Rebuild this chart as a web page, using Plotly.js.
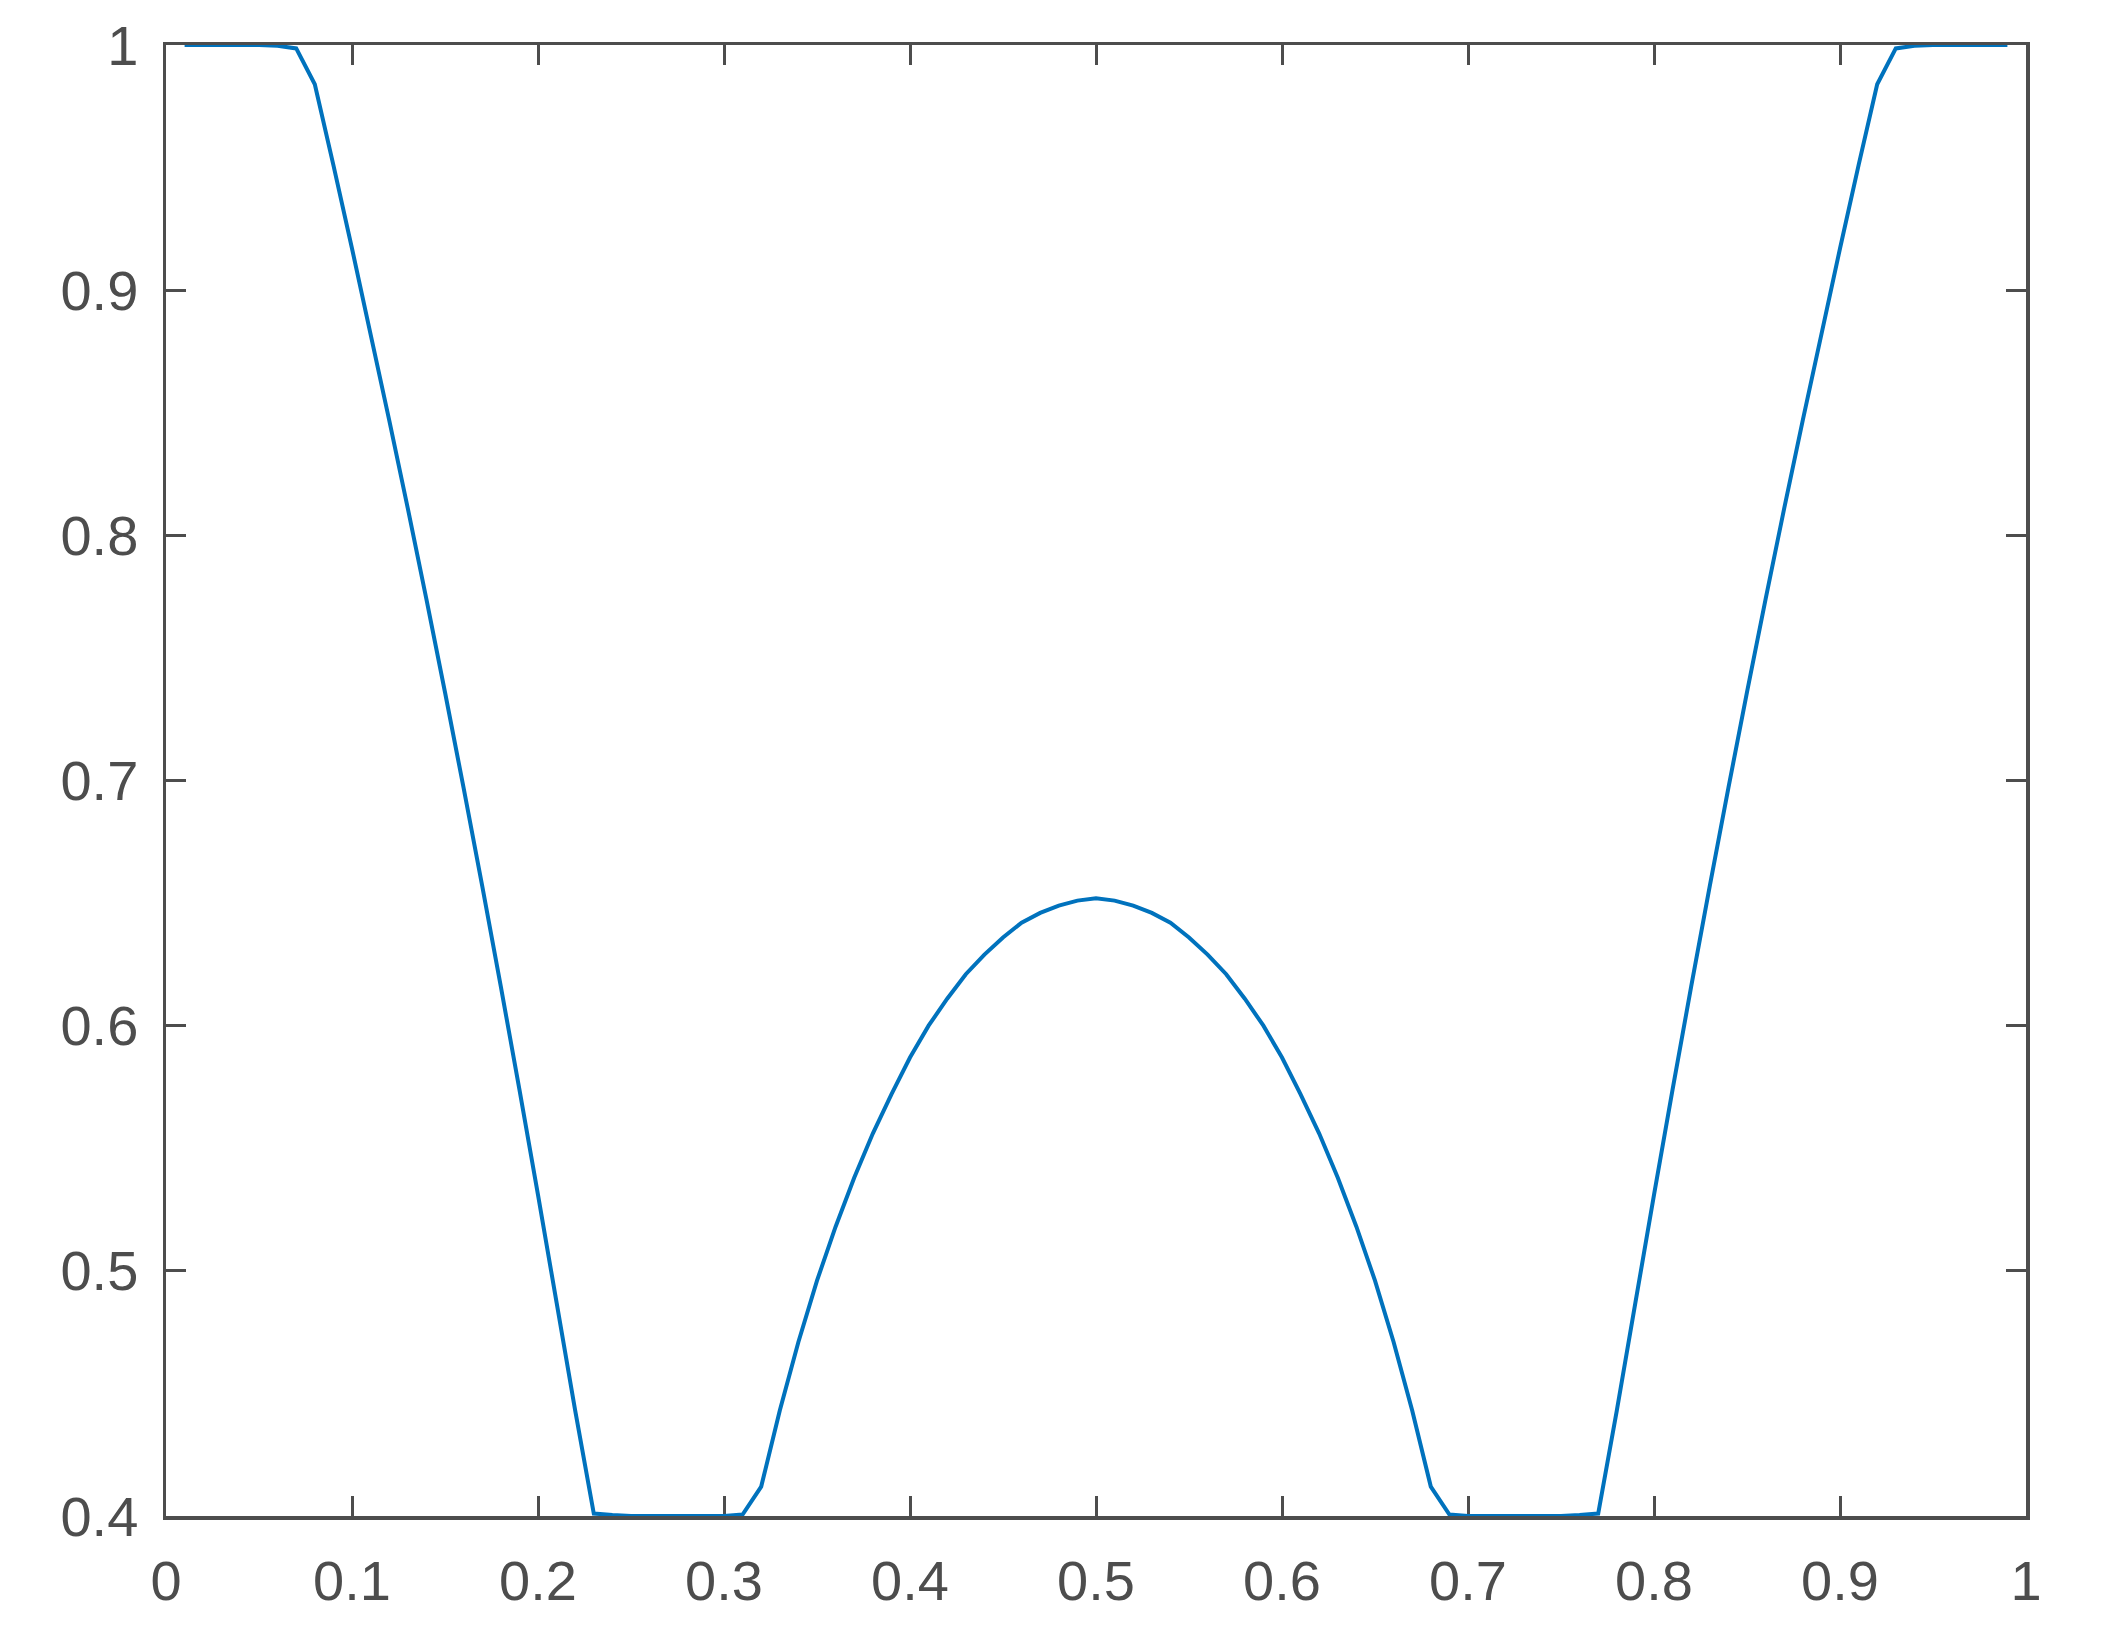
<!DOCTYPE html>
<html>
<head>
<meta charset="utf-8">
<script src="https://cdn.plot.ly/plotly-3.0.1.min.js"></script>
<style>
  html, body { margin: 0; padding: 0; background: #fff; }
  #chart { width: 2107px; height: 1646px; }
</style>
</head>
<body>
<div id="chart"></div>
<script>
// sample positions and values
var xs = [
  0.01, 0.02, 0.03, 0.04, 0.05, 0.06, 0.07, 0.08, 0.09, 0.10,
  0.11, 0.12, 0.13, 0.14, 0.15, 0.16, 0.17, 0.18, 0.19, 0.20,
  0.21, 0.22, 0.23, 0.24, 0.25, 0.26, 0.27, 0.28, 0.29, 0.30,
  0.31, 0.32, 0.33, 0.34, 0.35, 0.36, 0.37, 0.38, 0.39, 0.40,
  0.41, 0.42, 0.43, 0.44, 0.45, 0.46, 0.47, 0.48, 0.49, 0.50,
  0.51, 0.52, 0.53, 0.54, 0.55, 0.56, 0.57, 0.58, 0.59, 0.60,
  0.61, 0.62, 0.63, 0.64, 0.65, 0.66, 0.67, 0.68, 0.69, 0.70,
  0.71, 0.72, 0.73, 0.74, 0.75, 0.76, 0.77, 0.78, 0.79, 0.80,
  0.81, 0.82, 0.83, 0.84, 0.85, 0.86, 0.87, 0.88, 0.89, 0.90,
  0.91, 0.92, 0.93, 0.94, 0.95, 0.96, 0.97, 0.98, 0.99
];
var ys = [
  1.0, 1.0, 1.0, 1.0, 1.0, 0.9997, 0.9986, 0.984, 0.951, 0.917,
  0.882, 0.847, 0.811, 0.774, 0.736, 0.697, 0.657, 0.616, 0.574, 0.531,
  0.487, 0.443, 0.401, 0.4004, 0.4, 0.4, 0.4, 0.4, 0.4, 0.4,
  0.4006, 0.412, 0.443, 0.471, 0.496, 0.518, 0.538, 0.556, 0.572, 0.587,
  0.600, 0.611, 0.621, 0.629, 0.636, 0.642, 0.646, 0.649, 0.651, 0.652,
  0.651, 0.649, 0.646, 0.642, 0.636, 0.629, 0.621, 0.611, 0.600, 0.587,
  0.572, 0.556, 0.538, 0.518, 0.496, 0.471, 0.443, 0.412, 0.4006, 0.4,
  0.4, 0.4, 0.4, 0.4, 0.4, 0.4004, 0.401, 0.443, 0.487, 0.531,
  0.574, 0.616, 0.657, 0.697, 0.736, 0.774, 0.811, 0.847, 0.882, 0.917,
  0.951, 0.984, 0.9986, 0.9997, 1.0, 1.0, 1.0, 1.0, 1.0
];

var xTicks = [0, 0.1, 0.2, 0.3, 0.4, 0.5, 0.6, 0.7, 0.8, 0.9, 1];
var xTickText = ['0', '0.1', '0.2', '0.3', '0.4', '0.5', '0.6', '0.7', '0.8', '0.9', '1'];
var yTicks = [0.4, 0.5, 0.6, 0.7, 0.8, 0.9, 1];
var yTickText = ['0.4', '0.5', '0.6', '0.7', '0.8', '0.9', '1'];

var axisColor = '#4d4d4d';
var tickFont = {family: 'Liberation Sans, Arial, Helvetica, sans-serif', size: 56, color: axisColor};

var trace = {
  x: xs,
  y: ys,
  type: 'scatter',
  mode: 'lines',
  line: {color: '#0072bd', width: 4, simplify: false},
  cliponaxis: false,
  hoverinfo: 'none'
};

var commonAxis = {
  showline: true,
  linecolor: axisColor,
  linewidth: 3.5,
  mirror: 'ticks',
  ticks: 'inside',
  ticklen: 20,
  tickwidth: 3,
  tickcolor: axisColor,
  showgrid: false,
  zeroline: false,
  tickfont: tickFont,
  layer: 'below traces',
  fixedrange: true
};

var layout = {
  width: 2107,
  height: 1646,
  margin: {l: 166, r: 81, t: 45, b: 130},
  paper_bgcolor: '#ffffff',
  plot_bgcolor: '#ffffff',
  showlegend: false,
  xaxis: Object.assign({}, commonAxis, {
    range: [0, 1],
    tickmode: 'array',
    tickvals: xTicks,
    ticktext: xTickText,
    ticklabelstandoff: 13
  }),
  yaxis: Object.assign({}, commonAxis, {
    range: [0.4, 1],
    tickmode: 'array',
    tickvals: yTicks,
    ticktext: yTickText,
    ticklabelstandoff: 13
  })
};

Plotly.newPlot('chart', [trace], layout, {displayModeBar: false, staticPlot: true});
</script>
</body>
</html>
